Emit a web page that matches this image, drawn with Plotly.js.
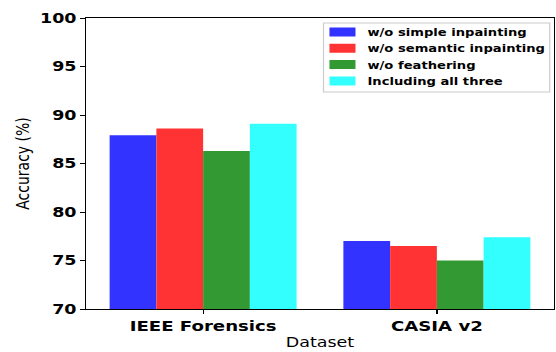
<!DOCTYPE html>
<html>
<head>
<meta charset="utf-8">
<script src="https://cdn.plot.ly/plotly-3.0.1.min.js"></script>
<style>
html,body{margin:0;padding:0;background:#fff;overflow:hidden;}
#wrap{width:556px;height:352px;overflow:hidden;}
#chart{width:444.8px;height:352px;transform:scale(1.25,1);transform-origin:0 0;}
</style>
</head>
<body>
<div id="wrap"><div id="chart"></div></div>
<script>
const categories = ["IEEE Forensics", "CASIA v2"];
const seriesNames = ["w/o simple inpainting", "w/o semantic inpainting", "w/o feathering", "Including all three"];
const simpleInpainting = [87.9, 77.0];
const semanticInpainting = [88.6, 76.5];
const feathering = [86.3, 75.0];
const allThree = [89.1, 77.4];
const yTicks = [70, 75, 80, 85, 90, 95, 100];
const colors = ["#3333ff", "#ff3333", "#339933", "#33ffff"];

const values = [simpleInpainting, semanticInpainting, feathering, allThree];
const legendIds = ["legend", "legend2", "legend3", "legend4"];
const legendRowY = [0.9519, 0.8959, 0.8399, 0.7838];

const traces = values.map((v, i) => ({
  type: "bar",
  name: seriesNames[i],
  x: categories,
  y: v,
  legend: legendIds[i],
  marker: {color: colors[i], line: {width: 0}}
}));

const layout = {
  width: 444.8, height: 352,
  margin: {l: 68.8, r: 2.4, t: 18, b: 43, autoexpand: false},
  paper_bgcolor: "#fff", plot_bgcolor: "#fff",
  barmode: "group", bargap: 0.2, bargroupgap: 0,
  font: {family: "DejaVu Sans", color: "#000"},
  xaxis: {
    showline: true, mirror: true, linecolor: "#000", linewidth: 1,
    ticks: "outside", ticklen: 4, tickcolor: "#000",
    tickfont: {family: "DejaVu Sans", size: 14.5, weight: "bold"},
    title: {text: "Dataset", font: {family: "DejaVu Sans", size: 14}, standoff: 3},
    showgrid: false
  },
  yaxis: {
    range: [70, 100], tickvals: yTicks,
    showline: true, mirror: true, linecolor: "#000", linewidth: 1,
    ticks: "outside", ticklen: 4, tickcolor: "#000",
    tickfont: {family: "DejaVu Sans", size: 14, weight: "bold"},
    title: {text: "Accuracy (%)", font: {family: "DejaVu Sans", size: 14}, standoff: 4},
    showgrid: false, zeroline: false
  },
  shapes: [{
    type: "rect", xref: "paper", yref: "paper",
    x0: 0.5075, x1: 0.9914, y0: 0.7457, y1: 0.9828,
    fillcolor: "rgba(255,255,255,0.8)", line: {color: "#cccccc", width: 1},
    layer: "above"
  }],
  showlegend: true
};
legendIds.forEach((id, i) => {
  layout[id] = {
    x: 0.4946, y: legendRowY[i], xanchor: "left", yanchor: "middle",
    bgcolor: "rgba(0,0,0,0)", borderwidth: 0,
    font: {family: "DejaVu Sans", size: 10.5, weight: "bold"}
  };
});

Plotly.newPlot("chart", traces, layout, {displayModeBar: false, staticPlot: true}).then(gd => {
  gd.querySelectorAll(".legendpoints path").forEach(p => {
    p.setAttribute("d", "M10.4,4.5H-10.4V-4.5H10.4Z");
  });
});
</script>
</body>
</html>
